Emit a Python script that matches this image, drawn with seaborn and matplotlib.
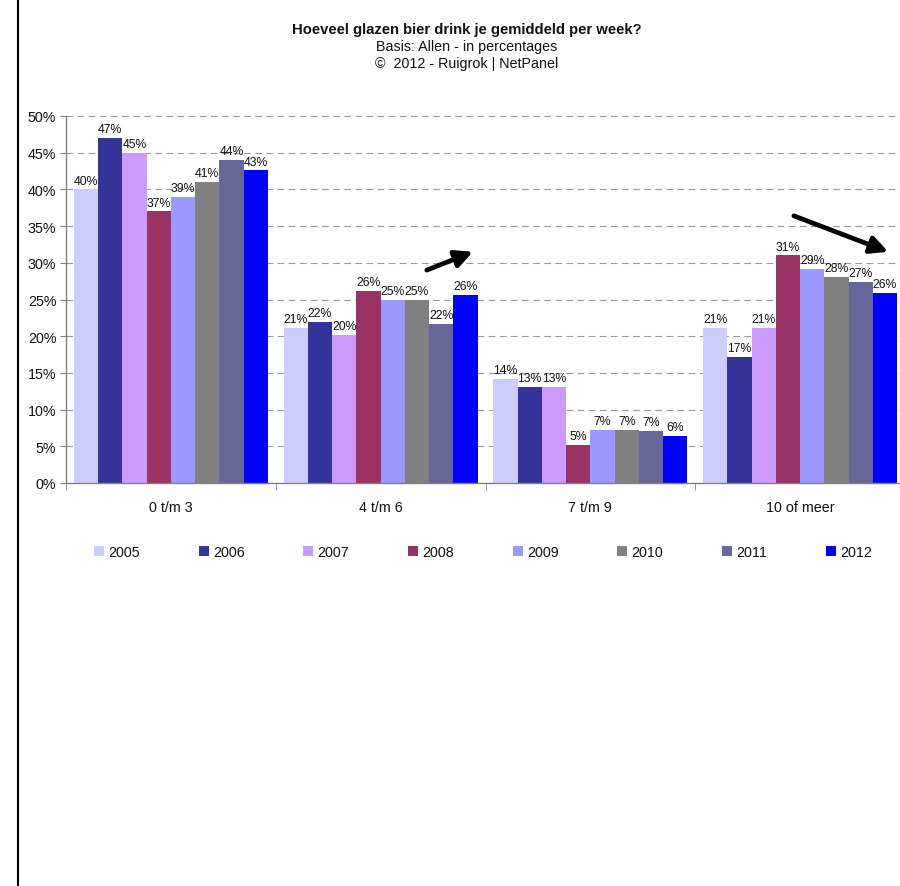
"""
plot.py
Grouped bar chart: Hoeveel glazen bier drink je gemiddeld per week?
"""

import matplotlib
matplotlib.use("Agg")
import matplotlib.pyplot as plt
from matplotlib.lines import Line2D
from matplotlib.ticker import FuncFormatter, MultipleLocator
import pandas as pd
import seaborn as sns


# ---------------------------------------------------------------------------
# Data
# ---------------------------------------------------------------------------
categories = ["0 t/m 3", "4 t/m 6", "7 t/m 9", "10 of meer"]
years = ["2005", "2006", "2007", "2008", "2009", "2010", "2011", "2012"]

values_2005 = [40.0, 21.1, 14.2, 21.1]
values_2006 = [47.0, 22.0, 13.1, 17.2]
values_2007 = [45.0, 20.2, 13.1, 21.1]
values_2008 = [37.0, 26.2, 5.2, 31.0]
values_2009 = [39.0, 25.0, 7.2, 29.2]
values_2010 = [41.0, 25.0, 7.2, 28.1]
values_2011 = [44.0, 21.7, 7.1, 27.4]
values_2012 = [42.6, 25.6, 6.4, 25.9]

series = [values_2005, values_2006, values_2007, values_2008,
          values_2009, values_2010, values_2011, values_2012]

colors = ["#CCCCFF", "#333399", "#CC99FF", "#993366",
          "#9999FF", "#808080", "#666699", "#0000FF"]

title = "Hoeveel glazen bier drink je gemiddeld per week?"
subtitle_1 = "Basis: Allen - in percentages"
subtitle_2 = "©  2012 - Ruigrok | NetPanel"

# long-form table for seaborn
rows = []
for year, vals in zip(years, series):
    for cat, v in zip(categories, vals):
        rows.append({"categorie": cat, "jaar": year, "pct": v})
df = pd.DataFrame(rows)


# ---------------------------------------------------------------------------
# Plot
# ---------------------------------------------------------------------------
sns.set_style("white")
plt.rcParams["font.family"] = ["Liberation Sans", "DejaVu Sans"]
plt.rcParams["text.color"] = "#111111"
FS = 10.3
LABEL_FS = 8.8   # small enough that neighbouring labels don't collide

fig = plt.figure(figsize=(9.0, 8.87), dpi=100)
ax = fig.add_axes([66 / 900, 1 - 484 / 887, 839 / 900, 367 / 887])

sns.barplot(
    data=df, x="categorie", y="pct", hue="jaar",
    order=categories, hue_order=years,
    palette=colors, width=0.925, saturation=1,
    linewidth=0, ax=ax, legend=True,
)

ax.set_ylim(0, 50)
ax.set_xlim(-0.5, 3.5)
ax.yaxis.set_major_locator(MultipleLocator(5))
ax.yaxis.set_major_formatter(FuncFormatter(lambda v, _: f"{v:.0f}%"))
ax.set_xlabel("")
ax.set_ylabel("")

# gridlines
ax.grid(axis="y", color="#999999", linestyle=(0, (6, 4)), linewidth=0.8)
ax.set_axisbelow(True)

# spines / ticks
for side in ["top", "right"]:
    ax.spines[side].set_visible(False)
for side in ["left", "bottom"]:
    ax.spines[side].set_color("#808080")
    ax.spines[side].set_linewidth(1.0)
ax.tick_params(axis="y", direction="out", length=4, color="#808080",
               labelsize=FS, labelcolor="#111111", pad=3, left=True)
ax.tick_params(axis="x", which="major", length=0, labelsize=FS,
               labelcolor="#111111", pad=12)
ax.set_xticks([-0.5, 0.5, 1.5, 2.5, 3.5], minor=True)
ax.tick_params(axis="x", which="minor", direction="out", length=5,
               color="#808080", bottom=True)

# value labels
for cont, vals in zip(ax.containers, series):
    ax.bar_label(cont, labels=[f"{round(v)}%" for v in vals],
                 fontsize=LABEL_FS, padding=2, color="#111111")

# trend arrows
arrow_kw = dict(arrowstyle="-|>", lw=3.4, color="black", mutation_scale=26,
                shrinkA=0, shrinkB=0)
ax.annotate("", xy=(1.44, 31.5), xytext=(1.22, 29.0),
            arrowprops=arrow_kw, annotation_clip=False)
ax.annotate("", xy=(3.42, 31.5), xytext=(2.97, 36.4),
            arrowprops=arrow_kw, annotation_clip=False)

# legend
handles, labels = ax.get_legend_handles_labels()
ax.legend(
    handles, labels, loc="center", ncol=8, frameon=False,
    bbox_to_anchor=(483 / 900, 1 - 553 / 887),
    bbox_transform=fig.transFigure, fontsize=FS,
    handlelength=0.7, handleheight=0.7, handletextpad=0.3,
    columnspacing=4.1,
)

# titles
fig.text(467 / 900, 1 - 30 / 887, title, ha="center", va="center",
         fontsize=FS + 0.4, fontweight="bold")
fig.text(467 / 900, 1 - 47 / 887, subtitle_1, ha="center", va="center",
         fontsize=FS)
fig.text(467 / 900, 1 - 64 / 887, subtitle_2, ha="center", va="center",
         fontsize=FS)

# left border line
fig.add_artist(Line2D([18 / 900, 18 / 900], [0, 1], color="black",
                      linewidth=1.5, transform=fig.transFigure))

fig.savefig("out.png", dpi=100)
plt.close(fig)
